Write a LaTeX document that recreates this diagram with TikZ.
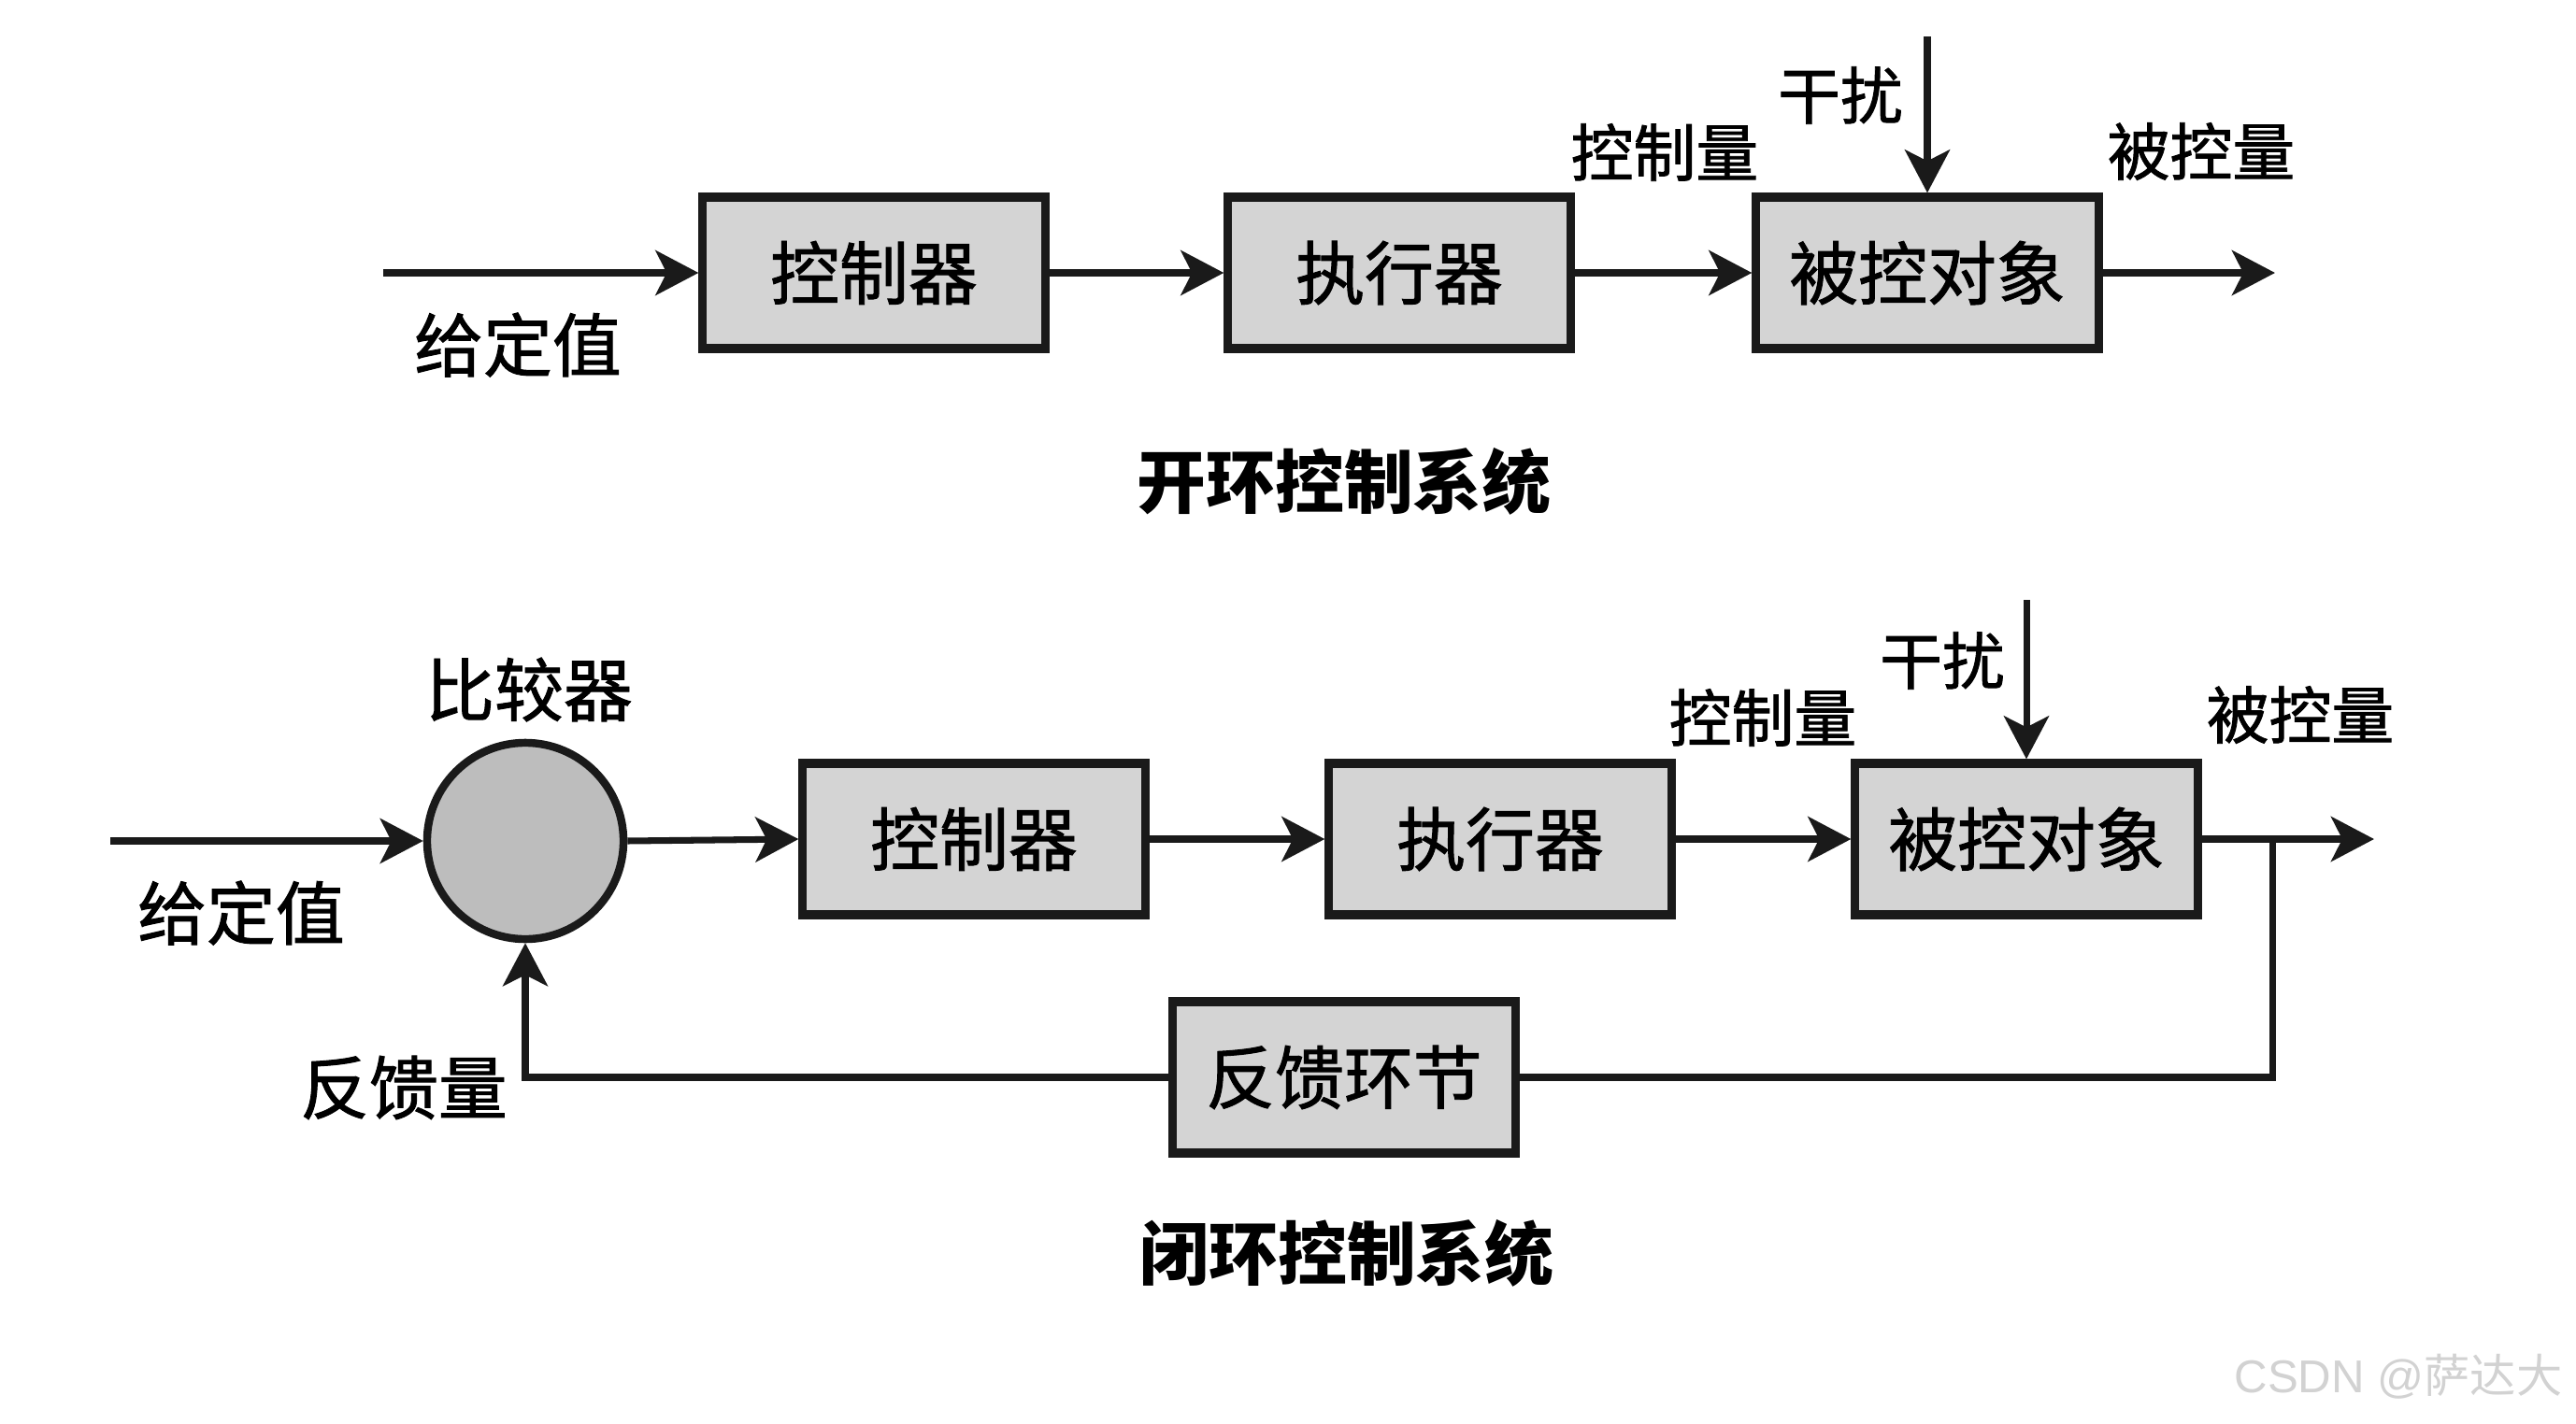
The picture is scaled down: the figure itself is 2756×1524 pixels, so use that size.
\documentclass[tikz,border=0pt]{standalone}
\usepackage{fontspec}
\setmainfont{Noto Sans CJK SC}
\newfontfamily\cjk[FakeBold=1.3]{Noto Sans CJK SC}
\newfontfamily\cjkt{Noto Sans CJK SC}
\usetikzlibrary{arrows.meta}
\definecolor{boxgray}{HTML}{D4D4D4}
\definecolor{circgray}{HTML}{BDBDBD}
\definecolor{inkc}{HTML}{1A1A1A}
\definecolor{wmark}{HTML}{D2D2D2}
\begin{document}
\begin{tikzpicture}[x=0.01cm,y=-0.01cm,
  blk/.style={draw=inkc, line width=2.6pt, fill=boxgray, minimum width=3.66cm, minimum height=1.62cm, inner sep=0pt, font=\cjk\fontsize{21}{21}\selectfont},
  cmpnode/.style={circle, draw=inkc, line width=2.4pt, fill=circgray, minimum size=2.1cm, inner sep=0pt},
  arr/.style={draw=inkc, line width=2pt, -{Stealth[length=0.46cm, width=0.48cm, inset=0.12cm]}},
  wire/.style={draw=inkc, line width=2pt},
  lbl/.style={font=\cjk\fontsize{21}{21}\selectfont, inner sep=0pt},
  slbl/.style={font=\cjk\fontsize{19}{19}\selectfont, inner sep=0pt},
  ttl/.style={font=\cjkt\bfseries\fontsize{21}{21}\selectfont, inner sep=0pt},
  wm/.style={font=\fontspec{Liberation Sans}\fontsize{14}{14}\selectfont, text=wmark, inner sep=0pt}]
\useasboundingbox[fill=white] (0,0) rectangle (2756,1524);

% ---------- open loop ----------
\node[blk] (c1) at (935,292) {控制器};
\node[blk] (e1) at (1497,292) {执行器};
\node[blk] (p1) at (2062,292) {被控对象};
\coordinate (in1) at (410,292);
\coordinate (out1) at (2434,292);
\coordinate (d1) at (2062,39);
\draw[arr] (in1) -- (c1.west);
\draw[arr] (c1.east) -- (e1.west);
\draw[arr] (e1.east) -- (p1.west);
\draw[arr] (p1.east) -- (out1);
\draw[arr] (d1) -- (p1.north);
\node[lbl] (g1) at (554,369) {给定值};
\node[slbl] (u1) at (1781,163) {控制量};
\node[slbl] (n1) at (1969,102) {干扰};
\node[slbl] (y1) at (2355,162) {被控量};
\node[ttl] (t1) at (1438,515) {开环控制系统};

% ---------- closed loop ----------
\node[cmpnode] (cmp) at (562,900) {};
\node[blk] (c2) at (1042,898) {控制器};
\node[blk] (e2) at (1605,898) {执行器};
\node[blk] (p2) at (2168,898) {被控对象};
\node[blk] (fb) at (1438,1153) {反馈环节};
\coordinate (in2) at (118,900);
\coordinate (out2) at (2540,898);
\coordinate (br) at (2431,898);
\coordinate (d2) at (2168,642);
\draw[arr] (in2) -- (cmp.west);
\draw[arr] (cmp.east) -- (c2.west);
\draw[arr] (c2.east) -- (e2.west);
\draw[arr] (e2.east) -- (p2.west);
\draw[arr] (p2.east) -- (out2);
\draw[arr] (d2) -- (p2.north);
\draw[wire] (br) |- (fb.east);
\draw[arr] (fb.west) -| (cmp.south);
\node[lbl] (k2) at (566,738) {比较器};
\node[lbl] (g2) at (258,977) {给定值};
\node[slbl] (u2) at (1886,768) {控制量};
\node[slbl] (n2) at (2078,707) {干扰};
\node[slbl] (y2) at (2461,765) {被控量};
\node[lbl] (f2) at (432,1164) {反馈量};
\node[ttl] (t2) at (1441,1341) {闭环控制系统};

\node[wm] (w) at (2566,1473) {CSDN @{\cjkt 萨达大}};
\end{tikzpicture}
\end{document}
